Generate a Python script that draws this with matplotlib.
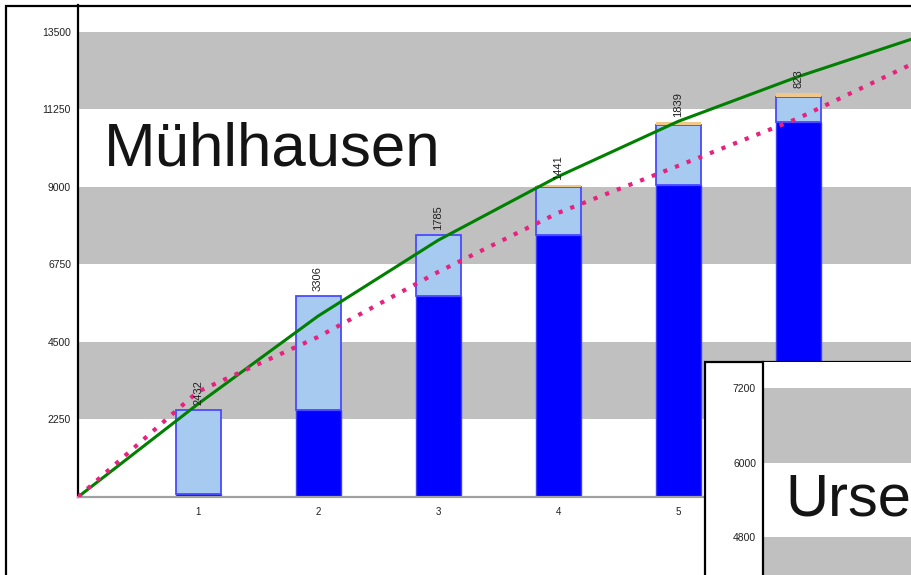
import matplotlib
matplotlib.use("Agg")
import matplotlib.pyplot as plt
from matplotlib.patches import Rectangle

plt.rcParams['font.family'] = ['Liberation Sans', 'DejaVu Sans']

# data
categories = [1, 2, 3, 4, 5, 6]
base = [90, 2522, 5828, 7613, 9054, 10893]      # dark blue part
increase = [2432, 3306, 1785, 1371, 1749, 723]  # light blue part
extra = [0, 0, 0, 70, 90, 100]                  # thin orange cap
bar_labels = ['2432', '3306', '1785', '1441', '1839', '823']
shown_xticks = [1, 2, 3, 4, 5]   # 6 sits under the inset chart

line_x = [0, 1, 2, 3, 4, 5, 6, 7]
green_line = [0, 2700, 5250, 7450, 9300, 10900, 12200, 13350]
pink_line = [0, 3060, 4645, 6530, 8245, 9610, 10990, 12650]

main_ticks = [2250, 4500, 6750, 9000, 11250, 13500]
main_bands = [(2250, 4500), (6750, 9000), (11250, 13500)]
inset_ticks = [4800, 6000, 7200]
inset_bands = [(3600, 4800), (6000, 7200)]

W, H = 911, 575
fig = plt.figure(figsize=(W / 100, H / 100), dpi=100)

def px(x0, y0, x1, y1):
    # pixel box (top-left origin) -> figure fraction rect
    return [x0 / W, (H - y1) / H, (x1 - x0) / W, (y1 - y0) / H]

# outer frame
fig.patches.append(Rectangle((6 / W, -0.1), 1.2, (H - 6) / H + 0.1, transform=fig.transFigure,
                             fill=False, edgecolor='black', linewidth=1.6, zorder=5))

ax = fig.add_axes(px(78, 5, 78 + 900, 497))
ax.set_xlim(0, 7.5)
ax.set_ylim(0, 14280)
for lo, hi in main_bands:
    ax.axhspan(lo, hi, color='#c0c0c0', zorder=0, linewidth=0)

tops = [b + i for b, i in zip(base, increase)]
ax.bar(categories, base, width=0.375, color='#0000ff', edgecolor='#3c3cff', linewidth=1, zorder=2)
ax.bar(categories, increase, bottom=base, width=0.375, color='#a6caf0',
       edgecolor='#4a4aff', linewidth=1.3, zorder=2)
ax.bar(categories, extra, bottom=tops, width=0.375, color='#f0c88c', linewidth=0, zorder=2)
for x, t, e, lab in zip(categories, tops, extra, bar_labels):
    ax.text(x, t + e + 150, lab, rotation=90, ha='center', va='bottom', fontsize=8,
            color='#202020', zorder=4)

ax.plot(line_x, green_line, color='#008000', linewidth=2.2, zorder=3)
ax.plot(line_x, pink_line, color='#e8207e', linewidth=3, linestyle=(0, (1, 2)), zorder=3)

ax.set_yticks(main_ticks)
ax.set_yticklabels([str(t) for t in main_ticks])
ax.set_xticks(shown_xticks)
ax.tick_params(axis='both', length=0, labelsize=7.5, labelcolor='#202020')
ax.tick_params(axis='y', pad=5)
ax.tick_params(axis='x', pad=7, labelsize=7)
for s in ['top', 'right']:
    ax.spines[s].set_visible(False)
ax.spines['left'].set_color('black')
ax.spines['left'].set_linewidth(1.6)
ax.spines['bottom'].set_color('#a0a0a0')
ax.spines['bottom'].set_linewidth(1.6)

fig.text(104 / W, (H - 165) / H, 'Mühlhausen', fontsize=44.5, va='baseline', ha='left', color='#141414')

# inset chart frame
fig.patches.append(Rectangle((705 / W, -0.1), 1.0, (H - 362) / H + 0.1, transform=fig.transFigure,
                             facecolor='white', edgecolor='black', linewidth=1.6, zorder=1.5))

ax2 = fig.add_axes(px(763, 362, 763 + 300, 362 + 249.5), zorder=2)
ax2.set_xlim(0, 1)
ax2.set_ylim(3600, 7619)
ax2.set_facecolor('white')
for lo, hi in inset_bands:
    ax2.axhspan(lo, hi, color='#c0c0c0', zorder=0, linewidth=0)
ax2.set_yticks(inset_ticks)
ax2.set_yticklabels([str(t) for t in inset_ticks])
ax2.set_xticks([])
ax2.tick_params(axis='y', length=0, labelsize=7.5, labelcolor='#202020', pad=5)
for s in ['top', 'right', 'bottom']:
    ax2.spines[s].set_visible(False)
ax2.spines['left'].set_color('black')
ax2.spines['left'].set_linewidth(1.6)

fig.text(785 / W, (H - 515) / H, 'Urse', fontsize=43, va='baseline', ha='left', color='#141414',
         zorder=6)

fig.savefig('out.png', dpi=100)
